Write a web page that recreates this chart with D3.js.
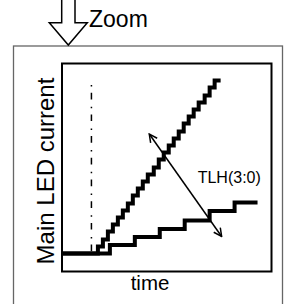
<!DOCTYPE html>
<html>
<head>
<meta charset="utf-8">
<script src="https://cdn.jsdelivr.net/npm/d3@7"></script>
<style>
  body { margin: 0; background: #fff; }
  svg { display: block; font-family: "Liberation Sans", Arial, sans-serif; }
</style>
</head>
<body>
<div id="chart"></div>
<script>
// step times (x) and current levels (y) for the two ramps
var fastTimes = [0, 36, 41, 46, 51, 56, 61, 66, 71, 76, 81, 86, 92, 97, 102, 107, 112, 117, 122, 127, 132, 137, 143, 148, 153, 159];
var fastLevels = [18, 25, 32, 40, 47, 54, 61, 68, 76, 83, 90, 97, 104, 112, 119, 126, 133, 140, 148, 155, 162, 169, 176, 184, 191, 191];
var slowTimes = [0, 48, 73, 98, 123, 148, 173, 196];
var slowLevels = [18, 26.5, 34.5, 42.5, 51, 60.5, 69, 69];
var startTime = 29.5;
var startLevels = [18, 186.5];
var tlhArrow = [[87.5, 137.5], [160, 35]];
var labels = { x: "time", y: "Main LED current", tlh: "TLH(3:0)", zoom: "Zoom" };

var width = 287, height = 304;
var margin = { top: 63.5, right: 15.5, bottom: 32.5, left: 62 };

var svg = d3.select("#chart").append("svg")
    .attr("width", width)
    .attr("height", height);

var x = d3.scaleLinear().domain([0, 210]).range([margin.left, width - margin.right]);
var y = d3.scaleLinear().domain([0, 208]).range([height - margin.bottom, margin.top]);

// outer zoom frame
svg.append("rect")
    .attr("x", 13.5).attr("y", 46)
    .attr("width", 269).attr("height", 270)
    .attr("fill", "none")
    .attr("stroke", "#666")
    .attr("stroke-width", 1.3);

// zoom arrow
svg.append("path")
    .attr("d", "M61.7,-2 L61.7,22.7 L49.3,22.7 L68.3,45 L87.3,22.7 L75,22.7 L75,-2")
    .attr("fill", "#fff")
    .attr("stroke", "#000")
    .attr("stroke-width", 1.5);

svg.append("text")
    .attr("x", 89).attr("y", 27)
    .attr("font-size", 23)
    .text(labels.zoom);

// plot frame
svg.append("rect")
    .attr("x", x.range()[0]).attr("y", y.range()[1])
    .attr("width", x.range()[1] - x.range()[0])
    .attr("height", y.range()[0] - y.range()[1])
    .attr("fill", "none")
    .attr("stroke", "#000")
    .attr("stroke-width", 2);

// start marker (dash dot)
svg.append("line")
    .attr("x1", x(startTime)).attr("x2", x(startTime))
    .attr("y1", y(startLevels[1])).attr("y2", y(startLevels[0]))
    .attr("stroke", "#000")
    .attr("stroke-width", 1.5)
    .attr("stroke-dasharray", "1.5,6.2,6.7,7.3");

var step = d3.line()
    .x(function (d) { return x(d[0]); })
    .y(function (d) { return y(d[1]); })
    .curve(d3.curveStepAfter);

svg.append("path")
    .datum(d3.zip(slowTimes, slowLevels))
    .attr("d", step)
    .attr("fill", "none")
    .attr("stroke", "#000")
    .attr("stroke-width", 4);

svg.append("path")
    .datum(d3.zip(fastTimes, fastLevels))
    .attr("d", step)
    .attr("fill", "none")
    .attr("stroke", "#000")
    .attr("stroke-width", 4);

// double headed arrow
svg.append("defs").append("marker")
    .attr("id", "head")
    .attr("viewBox", "0 0 10 10")
    .attr("refX", 9).attr("refY", 5)
    .attr("markerWidth", 10).attr("markerHeight", 10)
    .attr("markerUnits", "userSpaceOnUse")
    .attr("orient", "auto-start-reverse")
    .append("path")
    .attr("d", "M1,1 L9,5 L1,9")
    .attr("fill", "none")
    .attr("stroke", "#000")
    .attr("stroke-width", 1.5);

svg.append("line")
    .attr("x1", x(tlhArrow[0][0])).attr("y1", y(tlhArrow[0][1]))
    .attr("x2", x(tlhArrow[1][0])).attr("y2", y(tlhArrow[1][1]))
    .attr("stroke", "#000")
    .attr("stroke-width", 1.5)
    .attr("marker-start", "url(#head)")
    .attr("marker-end", "url(#head)");

svg.append("text")
    .attr("x", x(136)).attr("y", y(88.5))
    .attr("font-size", 16)
    .text(labels.tlh);

// axis titles
svg.append("text")
    .attr("x", 150).attr("y", 290)
    .attr("text-anchor", "middle")
    .attr("font-size", 20.5)
    .text(labels.x);

svg.append("text")
    .attr("transform", "translate(54,171) rotate(-90)")
    .attr("text-anchor", "middle")
    .attr("font-size", 24)
    .text(labels.y);
</script>
</body>
</html>
